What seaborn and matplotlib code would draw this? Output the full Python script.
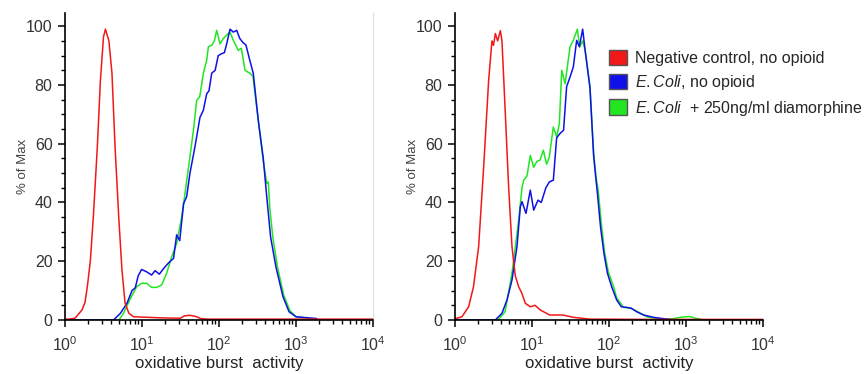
import numpy as np
import pandas as pd
import matplotlib
matplotlib.use("Agg")
import matplotlib.pyplot as plt
from matplotlib.patches import Patch
from matplotlib.ticker import LogLocator, MultipleLocator
import seaborn as sns

# ---- data (x stored as log10 of fluorescence, y as % of Max) ----
series_names = ["Negative control, no opioid", "E.Coli, no opioid", "E.Coli + 250ng/ml diamorphine"]
series_colors = ["#f01818", "#1010e8", "#22e622"]

# left panel
left_red_logx = [0.0, 0.05, 0.13, 0.22, 0.26, 0.29, 0.33, 0.37, 0.42, 0.46, 0.50, 0.525, 0.57, 0.61,
                 0.65, 0.70, 0.74, 0.78, 0.83, 0.89, 1.0, 1.28, 1.50, 1.55, 1.62, 1.70, 1.76, 1.85,
                 2.5, 4.0]
left_red_y = [0.3, 0.3, 0.6, 3.4, 6.0, 11.3, 20.4, 36.0, 59.0, 81.6, 96.4, 99.0, 95.0, 84.0,
              59.0, 34.0, 17.0, 5.7, 2.3, 1.1, 1.0, 0.7, 0.6, 1.4, 1.6, 1.2, 0.5, 0.3,
              0.3, 0.3]
left_blue_logx = [0.0, 0.63, 0.72, 0.805, 0.87, 0.913, 0.95, 0.995, 1.06, 1.125, 1.17, 1.225, 1.28,
                  1.34, 1.41, 1.45, 1.49, 1.54, 1.58, 1.623, 1.688, 1.753, 1.797, 1.84, 1.87, 1.905,
                  1.95, 1.99, 2.03, 2.07, 2.10, 2.143, 2.186, 2.23, 2.27, 2.31, 2.35, 2.40, 2.445,
                  2.51, 2.575, 2.62, 2.67, 2.74, 2.83, 2.91, 3.0, 3.27]
left_blue_y = [0.0, 0.0, 2.3, 5.7, 10.0, 11.0, 15.0, 17.2, 16.4, 15.3, 16.8, 15.6, 17.5,
               19.3, 21.0, 29.0, 27.0, 39.6, 42.0, 50.0, 59.0, 69.0, 71.4, 77.0, 78.0, 84.0,
               85.0, 90.0, 90.6, 91.0, 94.0, 99.0, 98.0, 98.6, 95.8, 94.5, 93.6, 88.4, 84.0,
               68.0, 55.0, 42.0, 28.3, 18.0, 8.0, 2.8, 1.1, 0.5]
left_green_logx = [0.0, 0.70, 0.76, 0.84, 0.93, 0.995, 1.06, 1.125, 1.19, 1.255, 1.32, 1.385, 1.45,
                   1.515, 1.558, 1.62, 1.67, 1.71, 1.75, 1.797, 1.84, 1.862, 1.905, 1.94, 1.97,
                   2.013, 2.056, 2.10, 2.143, 2.186, 2.25, 2.29, 2.338, 2.40, 2.44, 2.51, 2.575,
                   2.62, 2.64, 2.66, 2.70, 2.76, 2.84, 2.92, 3.0, 3.18]
left_green_y = [0.0, 0.0, 2.3, 6.8, 11.3, 12.5, 12.5, 11.1, 11.1, 11.9, 15.9, 21.5, 26.0,
                35.0, 43.0, 55.0, 65.0, 74.8, 76.0, 84.0, 88.4, 93.0, 93.5, 95.0, 98.6,
                94.0, 95.8, 97.0, 98.0, 95.2, 91.8, 92.5, 85.0, 84.0, 83.0, 68.0, 54.0,
                46.5, 47.0, 38.0, 28.0, 18.0, 8.5, 3.2, 1.1, 0.5]

# right panel
right_red_logx = [0.0, 0.026, 0.09, 0.177, 0.24, 0.307, 0.372, 0.437, 0.48, 0.50, 0.524, 0.554, 0.589,
                  0.61, 0.654, 0.697, 0.74, 0.783, 0.827, 0.87, 0.913, 0.978, 1.04, 1.108, 1.23,
                  1.40, 1.54, 1.75, 2.5, 4.0]
right_red_y = [0.6, 0.6, 1.1, 4.5, 11.3, 25.0, 52.0, 81.6, 95.0, 93.5, 97.5, 95.0, 98.5,
               95.0, 70.0, 45.0, 25.0, 15.0, 11.3, 9.0, 5.7, 4.5, 5.0, 3.4, 1.7,
               1.7, 0.9, 0.3, 0.2, 0.2]
right_blue_logx = [0.0, 0.524, 0.61, 0.675, 0.74, 0.805, 0.848, 0.87, 0.922, 0.978, 1.022, 1.078, 1.12,
                   1.18, 1.225, 1.277, 1.32, 1.364, 1.41, 1.45, 1.494, 1.537, 1.58, 1.615, 1.658,
                   1.69, 1.753, 1.80, 1.83, 1.85, 1.89, 1.935, 1.98, 2.035, 2.10, 2.16, 2.23, 2.29,
                   2.36, 2.45, 2.58, 2.75, 2.9]
right_blue_y = [0.0, 0.0, 2.3, 6.8, 13.6, 25.0, 38.5, 40.3, 36.3, 44.2, 37.4, 40.8, 40.0,
                45.0, 47.0, 47.6, 62.0, 63.5, 64.6, 79.5, 82.7, 86.2, 95.2, 93.0, 99.0,
                91.8, 79.0, 56.0, 48.0, 43.0, 31.7, 22.6, 15.9, 11.3, 6.8, 4.5, 4.3, 4.0,
                2.8, 1.7, 0.9, 0.3, 0.0]
right_green_logx = [0.0, 0.56, 0.65, 0.74, 0.827, 0.87, 0.892, 0.935, 0.978, 1.022, 1.065, 1.104, 1.147,
                    1.19, 1.225, 1.277, 1.32, 1.355, 1.386, 1.43, 1.494, 1.537, 1.589, 1.62, 1.658,
                    1.69, 1.753, 1.80, 1.83, 1.86, 1.90, 1.94, 1.99, 2.06, 2.10, 2.19, 2.28, 2.36,
                    2.50, 2.62, 2.80, 2.95, 3.05, 3.12, 3.2]
right_green_y = [0.0, 0.0, 2.8, 15.9, 34.0, 45.0, 47.6, 49.0, 56.0, 52.0, 54.0, 54.4, 57.8,
                 53.0, 55.5, 65.7, 62.3, 66.8, 85.0, 80.4, 93.0, 95.2, 99.0, 93.0, 95.0,
                 91.8, 79.5, 57.0, 49.0, 44.0, 33.0, 23.5, 16.5, 11.3, 7.5, 4.3, 4.0, 3.0,
                 1.0, 0.5, 0.3, 1.0, 1.2, 0.6, 0.2]

panels = [
    [(left_red_logx, left_red_y), (left_blue_logx, left_blue_y), (left_green_logx, left_green_y)],
    [(right_red_logx, right_red_y), (right_blue_logx, right_blue_y), (right_green_logx, right_green_y)],
]

sns.set_style("white")
plt.rcParams['font.family'] = ['Liberation Sans', 'DejaVu Sans']
plt.rcParams['mathtext.fontset'] = 'custom'
plt.rcParams['mathtext.rm'] = 'Liberation Sans'
plt.rcParams['mathtext.it'] = 'Liberation Sans:italic'

fig = plt.figure(figsize=(8.66, 3.74), dpi=100)
ax_w, ax_h = 308 / 866, 307 / 374
ax_bottom = 54 / 374
axes = [fig.add_axes([65 / 866, ax_bottom, ax_w, ax_h]),
        fig.add_axes([455 / 866, ax_bottom, ax_w, ax_h])]

for ax, series in zip(axes, panels):
    frames = []
    for name, (lx, yv) in zip(series_names, series):
        frames.append(pd.DataFrame({"x": 10 ** np.array(lx), "y": yv, "series": name}))
    df = pd.concat(frames, ignore_index=True)
    # draw green, then blue, then red on top
    for name in [series_names[2], series_names[1], series_names[0]]:
        sub = df[df["series"] == name]
        sns.lineplot(data=sub, x="x", y="y", ax=ax, color=series_colors[series_names.index(name)],
                     lw=1.1, sort=False, estimator=None, legend=False)
    ax.set_xscale("log")
    ax.set_xlim(1, 1e4)
    ax.set_ylim(0, 104.5)
    ax.xaxis.set_major_locator(LogLocator(base=10, numticks=10))
    ax.xaxis.set_minor_locator(LogLocator(base=10, subs=np.arange(2, 10), numticks=20))
    ax.yaxis.set_major_locator(MultipleLocator(20))
    ax.yaxis.set_minor_locator(MultipleLocator(5))
    ax.tick_params(axis="both", which="major", direction="out", length=5, width=1.1,
                   labelsize=11.5, labelcolor="#333333", color="black", pad=4)
    ax.tick_params(axis="x", which="major", pad=6)
    ax.tick_params(axis="both", which="minor", direction="out", length=3, width=1.0, color="black")
    ax.tick_params(axis="x", which="both", bottom=True)
    ax.tick_params(axis="y", which="both", left=True)
    for s in ["left", "bottom"]:
        ax.spines[s].set_color("black")
        ax.spines[s].set_linewidth(1.2)
    ax.spines["top"].set_visible(False)
    ax.spines["right"].set_visible(False)
    ax.set_xlabel("oxidative burst  activity", fontsize=12, color="#222222", labelpad=1.5)
    ax.set_ylabel("% of Max", fontsize=9.5, color="#444444", labelpad=-2)

axes[0].spines["right"].set_visible(True)
axes[0].spines["right"].set_color("#dddddd")
axes[0].spines["right"].set_linewidth(0.8)

labels = ["Negative control, no opioid", r"$\it{E.Coli}$, no opioid", r"$\it{E.Coli}$  + 250ng/ml diamorphine"]
handles = [Patch(facecolor=c, edgecolor="#555555", linewidth=1.0) for c in series_colors]
fig.legend(handles, labels, loc="upper left", bbox_to_anchor=(609 / 866, 1 - 50 / 374),
           frameon=False, fontsize=11.5, handlelength=1.1, handleheight=1.1, handletextpad=0.5,
           labelspacing=0.42, borderaxespad=0, borderpad=0)

fig.savefig("out.png", dpi=100, facecolor="white")
